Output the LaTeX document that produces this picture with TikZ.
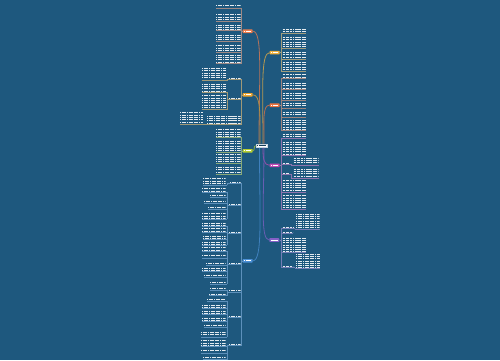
\documentclass[tikz,border=0pt]{standalone}
\usetikzlibrary{fit}
\definecolor{bg}{HTML}{1E587E}
\definecolor{cA}{HTML}{EE7E4E}
\definecolor{cB}{HTML}{F0A62E}
\definecolor{cC}{HTML}{B6CE32}
\definecolor{cD}{HTML}{4C90D6}
\definecolor{cE}{HTML}{F2B23E}
\definecolor{cF}{HTML}{EE7440}
\definecolor{cG}{HTML}{C44AB6}
\definecolor{cH}{HTML}{8460C6}
\colorlet{txtc}{white!88!bg}
\colorlet{bcol}{cA}
\tikzset{
 txtline/.style={line width=0.85pt, draw=txtc, dash pattern=on 1.3pt off .3pt on 1.3pt off .3pt on 1.3pt off .3pt on 1.3pt off .9pt on 1.3pt off .3pt on 1.3pt off .3pt on 1.3pt off .6pt},
 txt/.style={inner sep=0pt, path picture={\foreach \k in {0,...,14}{\draw[txtline] ([yshift=-\k*2.3pt-0.8pt]path picture bounding box.north west) -- ([yshift=-\k*2.3pt-0.8pt]path picture bounding box.north east);}}},
 ul/.style={draw=bcol!50!bg!80!white, line width=0.45pt},
 bnode/.style={fill=#1, rounded corners=0.6pt, minimum width=10pt, minimum height=3.6pt, inner sep=0pt, path picture={\draw[line width=.8pt, white, dash pattern=on 1.3pt off .3pt] ([xshift=1.3pt]path picture bounding box.west) -- ([xshift=-1.3pt]path picture bounding box.east);}},
 centre/.style={fill=white, draw=white!75!bg, line width=.3pt, minimum width=11.6pt, minimum height=3.8pt, inner sep=0pt, path picture={\draw[line width=.8pt, bg!70!black, dash pattern=on 1.3pt off .3pt] ([xshift=1.3pt]path picture bounding box.west) -- ([xshift=-1.3pt]path picture bounding box.east);}},
 curve/.style={line width=0.8pt, draw=#1!72!bg},
}
\newcommand\tblk[6]{\coordinate (#1-a) at (#2,#3); \coordinate (#1-b) at (#4,#5);
 \node[txt, fit=(#1-a)(#1-b)] (#1) {};
 \draw[ul] (#1.south west) -- (#1.south east) (#1.south) -- (#1.south -| #6);}
\newcommand\subgrp[4]{\draw[ul] (#1.south west) -- (#1.south -| #4) (#2.south -| #4) -- (#3.south -| #4) (#1.south -| #4) -- (#2.south -| #4);}
\begin{document}
\begin{tikzpicture}[x=1pt,y=-1pt]
\fill[bg] (0,0) rectangle (500,360);
\useasboundingbox (0,0) rectangle (500,360);
\coordinate (bL) at (241.7,0);
\coordinate (sL) at (227.3,0);
\coordinate (sL2) at (205,0);
\coordinate (bR) at (281.3,0);
\coordinate (sR) at (291.5,0);
\coordinate (sR2) at (295,0);
% centre and branch nodes
\node[centre] (M) at (261.5,145.7) {};
\node[bnode=cA] (A) at (247.7,31.2) {};
\node[bnode=cB] (B) at (247.7,94.8) {};
\node[bnode=cC] (Cn) at (247.7,150.8) {};
\node[bnode=cD] (D) at (247.7,260.8) {};
\node[bnode=cE] (R1) at (274.7,52.6) {};
\node[bnode=cF] (R2) at (274.7,105.2) {};
\node[bnode=cG] (R3) at (274.7,165.3) {};
\node[bnode=cH] (R4) at (274.3,240) {};
% curves
\draw[curve=cA] ([xshift=-2.5pt]M.north) to[out=90,in=0,out distance=65pt,in distance=10pt] (A.east);
\draw[curve=cB] ([xshift=-1.5pt]M.north) to[out=90,in=0,out distance=30pt,in distance=8pt] (B.east);
\draw[curve=cC] (M.west) to[out=180,in=0] (Cn.east);
\draw[curve=cD] ([xshift=-2pt]M.south) to[out=-90,in=0,out distance=65pt,in distance=10pt] (D.east);
\draw[curve=cE] ([xshift=1.5pt]M.north) to[out=90,in=180,out distance=52pt,in distance=9pt] (R1.west);
\draw[curve=cF] ([xshift=2.5pt]M.north) to[out=90,in=180,out distance=24pt,in distance=7pt] (R2.west);
\draw[curve=cG] ([xshift=1.5pt]M.south) to[out=-90,in=180,out distance=10pt,in distance=6pt] (R3.west);
\draw[curve=cH] ([xshift=2.5pt]M.south) to[out=-90,in=180,out distance=52pt,in distance=9pt] (R4.west);
% ---- A
\colorlet{bcol}{cA}
\tblk{a1}{216}{5}{240.7}{8.3}{bL}
\tblk{a2}{216}{14}{240.7}{20.7}{bL}
\tblk{a3}{216}{24.3}{240.7}{30}{bL}
\tblk{a4}{216}{34.3}{240.7}{41}{bL}
\tblk{a5}{216}{45}{240.7}{51.7}{bL}
\tblk{a6}{216}{54.3}{240.7}{63.3}{bL}
\draw[ul] (a1.south -| bL) -- (a6.south -| bL) (A.west) -- (A.west -| bL);
% ---- B
\colorlet{bcol}{cB}
\tblk{b1}{229}{77.7}{240.7}{79.5}{bL}
\tblk{b1a}{202}{67.7}{226}{80}{sL}
\subgrp{b1}{b1a}{b1a}{sL}
\tblk{b2}{229}{97.4}{240.7}{99.2}{bL}
\tblk{b2a}{202}{83.3}{226}{91.7}{sL}
\tblk{b2b}{202}{95}{226}{109.3}{sL}
\subgrp{b2}{b2a}{b2b}{sL}
\tblk{b3}{207}{115.5}{240.7}{124.5}{bL}
\tblk{b3a}{180}{112}{203}{124}{sL2}
\subgrp{b3}{b3a}{b3a}{sL2}
\draw[ul] (b1.south -| bL) -- (b3.south -| bL) (B.west) -- (B.west -| bL);
% ---- C
\colorlet{bcol}{cC}
\tblk{c1}{216}{129}{240.7}{137}{bL}
\tblk{c2}{216}{140.7}{240.7}{151.7}{bL}
\tblk{c3}{216}{154}{240.7}{163}{bL}
\tblk{c4}{216}{166.7}{240.7}{174}{bL}
\draw[ul] (c1.south -| bL) -- (c4.south -| bL) (Cn.west) -- (Cn.west -| bL);
% ---- D
\colorlet{bcol}{cD}
\tblk{dL1}{230}{181.5}{240.7}{183.3}{bL}
\tblk{d1a}{203}{178}{225.5}{185}{sL}
\subgrp{dL1}{d1a}{d1a}{sL}
\tblk{dL2}{229}{203.2}{240.7}{205}{bL}
\tblk{d2a}{202}{188}{225.5}{192}{sL}
\tblk{d2b}{210}{195}{225.5}{197.2}{sL}
\tblk{d2c}{204}{201}{225.5}{203.2}{sL}
\tblk{d2d}{208}{207}{225.5}{209.2}{sL}
\tblk{d2e}{202}{213}{225.5}{219}{sL}
\subgrp{dL2}{d2a}{d2e}{sL}
\tblk{dL3}{229}{231.5}{240.7}{233.3}{bL}
\tblk{d3a}{202}{222.7}{225.5}{226}{sL}
\tblk{d3b}{202}{228}{225.5}{232}{sL}
\tblk{d3c}{203}{235.7}{225.5}{239}{sL}
\tblk{d3d}{202}{241.7}{225.5}{245}{sL}
\subgrp{dL3}{d3a}{d3d}{sL}
\tblk{dL4}{229}{262.2}{240.7}{264}{bL}
\tblk{d4a}{202}{247}{225.5}{250.7}{sL}
\tblk{d4b}{202}{255}{225.5}{258}{sL}
\tblk{d4c}{206}{262.7}{225.5}{265}{sL}
\tblk{d4d}{202}{267.7}{225.5}{271}{sL}
\tblk{d4e}{204}{274.3}{225.5}{276.7}{sL}
\tblk{d4f}{210}{281.5}{225.5}{283.7}{sL}
\subgrp{dL4}{d4a}{d4f}{sL}
\tblk{dL5}{229}{289.9}{240.7}{291.7}{bL}
\tblk{d5a}{210}{287.7}{225.5}{290}{sL}
\tblk{d5b}{209}{293.3}{225.5}{295.5}{sL}
\subgrp{dL5}{d5a}{d5b}{sL}
\tblk{dL6}{229}{315.5}{240.7}{317.3}{bL}
\tblk{d6a}{207}{299}{225.5}{301.2}{sL}
\tblk{d6b}{202}{304.3}{225.5}{307.7}{sL}
\tblk{d6c}{202}{310.7}{225.5}{314}{sL}
\tblk{d6d}{202}{317.7}{225.5}{320.7}{sL}
\tblk{d6e}{204}{325}{225.5}{327.4}{sL}
\tblk{d6f}{201}{331.7}{225.5}{336.7}{sL}
\subgrp{dL6}{d6a}{d6f}{sL}
\tblk{dL7}{229}{343.5}{240.7}{345.3}{bL}
\tblk{d7a}{201}{340}{225.5}{346}{sL}
\tblk{d7b}{201}{350}{225.5}{353.3}{sL}
\tblk{d7c}{203}{356.7}{225.5}{359.3}{sL}
\subgrp{dL7}{d7a}{d7c}{sL}
\draw[ul] (dL1.south -| bL) -- (dL7.south -| bL) (D.west) -- (D.west -| bL);
% ---- R1
\colorlet{bcol}{cE}
\tblk{r1a}{282.5}{28.3}{306}{33.3}{bR}
\tblk{r1b}{282.5}{36.7}{306}{48.3}{bR}
\tblk{r1c}{282.5}{51.7}{306}{59.3}{bR}
\tblk{r1d}{282.5}{61.7}{306}{71}{bR}
\draw[ul] (r1a.south -| bR) -- (r1d.south -| bR) (R1.east) -- (R1.east -| bR);
% ---- R2
\colorlet{bcol}{cF}
\tblk{r2a}{282.5}{74}{306}{78.3}{bR}
\tblk{r2b}{282.5}{82.7}{306}{89.3}{bR}
\tblk{r2c}{282.5}{92.7}{306}{100}{bR}
\tblk{r2d}{282.5}{102.7}{306}{108.3}{bR}
\tblk{r2e}{282.5}{111.7}{306}{116.7}{bR}
\tblk{r2f}{282.5}{119.3}{306}{130}{bR}
\draw[ul] (r2a.south -| bR) -- (r2f.south -| bR) (R2.east) -- (R2.east -| bR);
% ---- R3
\colorlet{bcol}{cG}
\tblk{r3a}{282.5}{133.3}{306}{137.7}{bR}
\tblk{r3b}{282.5}{141.7}{306}{155}{bR}
\tblk{r3L1}{282.5}{162.5}{289.5}{164.3}{bR}
\tblk{r3c}{293.5}{157.3}{318.5}{165}{sR}
\subgrp{r3L1}{r3c}{r3c}{sR}
\tblk{r3L2}{282.5}{172.5}{289.5}{174.3}{bR}
\tblk{r3d}{293.5}{168.3}{318.5}{178.3}{sR}
\subgrp{r3L2}{r3d}{r3d}{sR}
\tblk{r3e}{282.5}{180}{306}{191.7}{bR}
\tblk{r3f}{282.5}{195}{306}{209.3}{bR}
\draw[ul] (r3a.south -| bR) -- (r3f.south -| bR) (R3.east) -- (R3.east -| bR);
% ---- R4
\colorlet{bcol}{cH}
\tblk{r4L1}{282.5}{226.5}{294}{228.3}{bR}
\tblk{r4a}{296}{213.3}{319.5}{229.3}{sR2}
\subgrp{r4L1}{r4a}{r4a}{sR2}
\tblk{r4L2}{282.5}{231.5}{293}{233.3}{bR}
\tblk{r4b}{282.5}{237.3}{306}{251.7}{bR}
\tblk{r4L3}{282.5}{265.5}{293}{267.3}{bR}
\tblk{r4c}{296}{253.3}{320}{268.3}{sR2}
\subgrp{r4L3}{r4c}{r4c}{sR2}
\draw[ul] (r4L1.south -| bR) -- (r4L3.south -| bR) (R4.east) -- (R4.east -| bR);
\end{tikzpicture}
\end{document}
